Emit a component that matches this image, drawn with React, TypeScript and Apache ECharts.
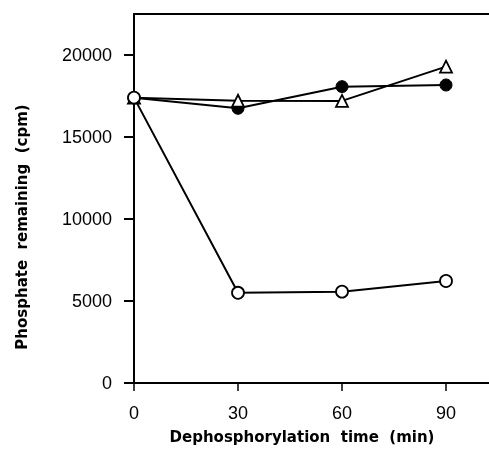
import React, { useEffect, useRef } from 'react';
import * as echarts from 'echarts';

const times = [0, 30, 60, 90];
const openCircles = [17400, 5500, 5570, 6220];
const filledCircles = [17400, 16750, 18070, 18170];
const triangles = [17400, 17210, 17200, 19290];
const yTicks = [0, 5000, 10000, 15000, 20000];
const xTicks = [0, 30, 60, 90];
const xTitle = 'Dephosphorylation  time  (min)';
const yTitle = 'Phosphate  remaining  (cpm)';

export default function App() {
  const ref = useRef<HTMLDivElement>(null);
  useEffect(() => {
    const chart = echarts.init(ref.current!, null, { renderer: 'svg' });
    const font = '"Liberation Sans", Arial, sans-serif';
    const titleFont = '"DejaVu Sans", sans-serif';
    const pts = (vals: number[]) => times.map((t, i) => [t, vals[i]]);
    const line = { color: '#000', width: 2 };
    chart.setOption({
      animation: false,
      grid: { left: 134, right: 0, top: 14, bottom: 74 },
      xAxis: [
        {
          type: 'value', min: 0, max: 102.4,
          axisLine: { onZero: false, lineStyle: line },
          axisTick: { customValues: xTicks, length: 8, lineStyle: { color: '#000', width: 1.5 } },
          axisLabel: { customValues: xTicks, margin: 21, fontSize: 18, color: '#000', fontFamily: font, formatter: (v: number) => String(v) },
          splitLine: { show: false },
        },
        {
          type: 'value', position: 'top', min: 0, max: 102.4,
          axisLine: { show: true, onZero: false, lineStyle: line },
          axisTick: { show: false }, axisLabel: { show: false }, splitLine: { show: false },
        },
      ],
      yAxis: {
        type: 'value', min: 0, max: 22500,
        axisLine: { show: true, onZero: false, lineStyle: line },
        axisTick: { show: true, customValues: yTicks, length: 10, lineStyle: { color: '#000', width: 2 } },
        axisLabel: { customValues: yTicks, margin: 22, fontSize: 18, color: '#000', fontFamily: font, formatter: (v: number) => String(v) },
        splitLine: { show: false },
      },
      graphic: [
        {
          type: 'text', x: 302, y: 437,
          style: { text: xTitle, font: `bold 15px ${titleFont}`, fill: '#000', align: 'center', verticalAlign: 'middle' },
        },
        {
          type: 'text', x: 22, y: 227, rotation: Math.PI / 2,
          style: { text: yTitle, font: `bold 15px ${titleFont}`, fill: '#000', align: 'center', verticalAlign: 'middle' },
        },
      ],
      series: [
        {
          type: 'line', data: pts(filledCircles), xAxisIndex: 0,
          symbol: 'circle', symbolSize: 12,
          lineStyle: line, itemStyle: { color: '#000', borderColor: '#000' },
        },
        {
          type: 'line', data: pts(triangles), xAxisIndex: 0,
          symbol: 'triangle', symbolSize: 12,
          lineStyle: line, itemStyle: { color: '#fff', borderColor: '#000', borderWidth: 1.8 },
        },
        {
          type: 'line', data: pts(openCircles), xAxisIndex: 0,
          symbol: 'circle', symbolSize: 12,
          lineStyle: line, itemStyle: { color: '#fff', borderColor: '#000', borderWidth: 1.8 },
        },
      ],
    });
    return () => chart.dispose();
  }, []);
  return <div ref={ref} style={{ position: 'fixed', left: 0, top: 0, width: 489, height: 457 }} />;
}
